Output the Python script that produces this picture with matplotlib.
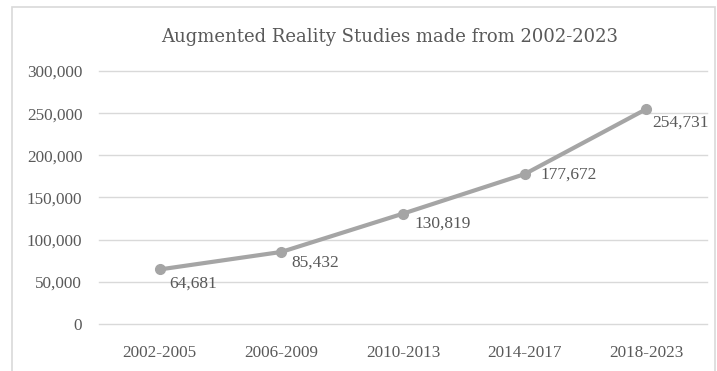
import matplotlib
matplotlib.use("Agg")
import matplotlib.pyplot as plt
from matplotlib.patches import Rectangle
from matplotlib.ticker import FuncFormatter

periods = ["2002-2005", "2006-2009", "2010-2013", "2014-2017", "2018-2023"]
studies = [64681, 85432, 130819, 177672, 254731]

# label offsets in points (dx, dy), mimic the excel placement
label_offsets = [(6.5, -10.5), (7, -8), (8, -7), (11.5, 0), (4.5, -9.5)]

line_col = "#a5a5a5"
text_col = "#595959"
grid_col = "#d9d9d9"

plt.rcParams["font.family"] = ["Liberation Serif", "DejaVu Serif"]

fig = plt.figure(figsize=(7.17, 3.71), dpi=100)
ax = fig.add_axes([0.138, 0.1267, 0.848, 0.682])

x = range(len(periods))
ax.plot(x, studies, color=line_col, lw=3, marker="o", ms=7,
        solid_capstyle="round", zorder=3)

for i, v in enumerate(studies):
    ax.annotate(f"{v:,}", (i, v), xytext=label_offsets[i], textcoords="offset points",
                ha="left", va="center", fontsize=12.5, color=text_col)

ax.set_xlim(-0.5, len(periods) - 0.5)
ax.set_ylim(0, 300000)
ax.set_yticks(range(0, 300001, 50000))
ax.yaxis.set_major_formatter(FuncFormatter(lambda v, p: f"{int(v):,}"))
ax.set_xticks(list(x))
ax.set_xticklabels(periods)
ax.grid(axis="y", color=grid_col, lw=1)
for gl in ax.get_ygridlines():
    gl.set_clip_on(False)
ax.set_axisbelow(True)
for s in ax.spines.values():
    s.set_visible(False)
ax.tick_params(length=0, labelsize=12.3, colors=text_col)
ax.tick_params(axis="y", pad=12)
ax.tick_params(axis="x", pad=15)

fig.text(0.544, 0.90, "Augmented Reality Studies made from 2002-2023",
         ha="center", va="center", fontsize=13, color=text_col, family="DejaVu Serif")

# outer chart border
fig.patches.append(Rectangle((0.017, -0.01), 0.98, 0.99, transform=fig.transFigure,
                             fill=False, ec=grid_col, lw=1.2))

fig.savefig("out.png", dpi=100)
